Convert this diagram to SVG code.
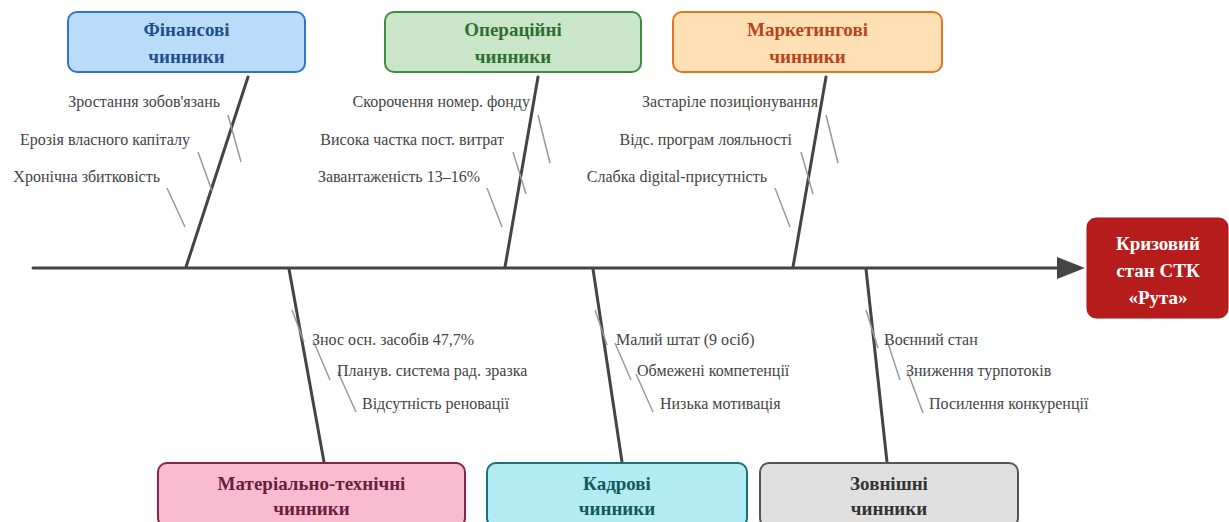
<svg xmlns="http://www.w3.org/2000/svg" width="1229" height="522" viewBox="0 0 1229 522">
<style>
.bone{stroke:#444;stroke-width:3;fill:none;stroke-linecap:round}
.sub{stroke:#9a9a9a;stroke-width:1.5;fill:none}
.lbl{font-family:"Liberation Serif","DejaVu Serif",serif;font-size:16px;fill:#444}
.ttl{font-family:"Liberation Serif","DejaVu Serif",serif;font-size:19px;font-weight:bold;text-anchor:middle}
.box{stroke-width:2}
</style>
<rect width="1229" height="522" fill="#ffffff"/>
<g id="connectors">
<line class="bone" x1="33" y1="268" x2="1060" y2="268" stroke-width="3.5"/>
<polygon points="1057,257 1085,268 1057,279" fill="#444"/>
<line class="bone" x1="248" y1="77" x2="186" y2="267"/>
<line class="bone" x1="538" y1="77" x2="505" y2="267"/>
<line class="bone" x1="826" y1="77" x2="793" y2="267"/>
<line class="bone" x1="289" y1="269" x2="324" y2="462"/>
<line class="bone" x1="593" y1="269" x2="622" y2="462"/>
<line class="bone" x1="866" y1="269" x2="887" y2="462"/>
<line class="sub" x1="228" y1="115" x2="241" y2="162"/>
<line class="sub" x1="198" y1="152" x2="212" y2="191"/>
<line class="sub" x1="167" y1="188" x2="185" y2="227"/>
<line class="sub" x1="538" y1="115" x2="550" y2="163"/>
<line class="sub" x1="513" y1="152" x2="526" y2="194"/>
<line class="sub" x1="487" y1="188" x2="502" y2="227"/>
<line class="sub" x1="826" y1="115" x2="838" y2="163"/>
<line class="sub" x1="801" y1="152" x2="813" y2="194"/>
<line class="sub" x1="775" y1="188" x2="790" y2="227"/>
<line class="sub" x1="292" y1="310" x2="304" y2="342"/>
<line class="sub" x1="313" y1="340" x2="330" y2="380"/>
<line class="sub" x1="338" y1="372" x2="356" y2="412"/>
<line class="sub" x1="595" y1="310" x2="607" y2="345"/>
<line class="sub" x1="615" y1="343" x2="631" y2="380"/>
<line class="sub" x1="636" y1="374" x2="653" y2="412"/>
<line class="sub" x1="866" y1="310" x2="878" y2="348"/>
<line class="sub" x1="887" y1="340" x2="900" y2="380"/>
<line class="sub" x1="907" y1="370" x2="923" y2="413"/>
</g>
<g id="labels">
<text class="lbl" x="220" y="107" text-anchor="end">Зростання зобов'язань</text>
<text class="lbl" x="190" y="145" text-anchor="end">Ерозія власного капіталу</text>
<text class="lbl" x="160" y="182" text-anchor="end">Хронічна збитковість</text>
<text class="lbl" x="530" y="107" text-anchor="end">Скорочення номер. фонду</text>
<text class="lbl" x="504" y="145" text-anchor="end">Висока частка пост. витрат</text>
<text class="lbl" x="480" y="182" text-anchor="end">Завантаженість 13–16%</text>
<text class="lbl" x="818" y="107" text-anchor="end">Застаріле позиціонування</text>
<text class="lbl" x="792" y="145" text-anchor="end">Відс. програм лояльності</text>
<text class="lbl" x="767" y="182" text-anchor="end">Слабка digital-присутність</text>
<text class="lbl" x="312" y="345">Знос осн. засобів 47,7%</text>
<text class="lbl" x="337" y="376">Планув. система рад. зразка</text>
<text class="lbl" x="362" y="409">Відсутність реновації</text>
<text class="lbl" x="616" y="345">Малий штат (9 осіб)</text>
<text class="lbl" x="637" y="376">Обмежені компетенції</text>
<text class="lbl" x="660" y="409">Низька мотивація</text>
<text class="lbl" x="884" y="345">Воєнний стан</text>
<text class="lbl" x="906" y="376">Зниження турпотоків</text>
<text class="lbl" x="929" y="409">Посилення конкуренції</text>
</g>
<g id="node-financial">
<rect class="box" x="68" y="12" width="237" height="60" rx="9" fill="#bbdcf8" stroke="#2f74cf"/>
<text class="ttl" x="186.5" y="36" fill="#1d4f8f">Фінансові</text>
<text class="ttl" x="186.5" y="63" fill="#1d4f8f">чинники</text>
</g>
<g id="node-operational">
<rect class="box" x="385" y="12" width="256" height="60" rx="9" fill="#c9e6c9" stroke="#3f8c42"/>
<text class="ttl" x="513" y="36" fill="#2e6e31">Операційні</text>
<text class="ttl" x="513" y="63" fill="#2e6e31">чинники</text>
</g>
<g id="node-marketing">
<rect class="box" x="673" y="12" width="269" height="60" rx="9" fill="#ffe0b5" stroke="#e5731f"/>
<text class="ttl" x="807.5" y="36" fill="#b8431a">Маркетингові</text>
<text class="ttl" x="807.5" y="63" fill="#b8431a">чинники</text>
</g>
<g id="node-material">
<rect class="box" x="158" y="463" width="307" height="64" rx="9" fill="#f8bbd0" stroke="#8c2050"/>
<text class="ttl" x="311.5" y="490" fill="#6b1d3c">Матеріально-технічні</text>
<text class="ttl" x="311.5" y="515" fill="#6b1d3c">чинники</text>
</g>
<g id="node-personnel">
<rect class="box" x="487" y="463" width="260" height="64" rx="9" fill="#b3ebf2" stroke="#17707a"/>
<text class="ttl" x="617" y="490" fill="#0f5a5c">Кадрові</text>
<text class="ttl" x="617" y="515" fill="#0f5a5c">чинники</text>
</g>
<g id="node-external">
<rect class="box" x="760" y="463" width="258" height="64" rx="9" fill="#e0e0e0" stroke="#555555"/>
<text class="ttl" x="889" y="490" fill="#333333">Зовнішні</text>
<text class="ttl" x="889" y="515" fill="#333333">чинники</text>
</g>
<g id="node-crisis">
<rect x="1087" y="218" width="141" height="100" rx="9" fill="#b71c1c" stroke="#a51818" stroke-width="1"/>
<text class="ttl" x="1158" y="250" fill="#ffffff">Кризовий</text>
<text class="ttl" x="1158" y="277" fill="#ffffff">стан СТК</text>
<text class="ttl" x="1158" y="304" fill="#ffffff">«Рута»</text>
</g>
</svg>
